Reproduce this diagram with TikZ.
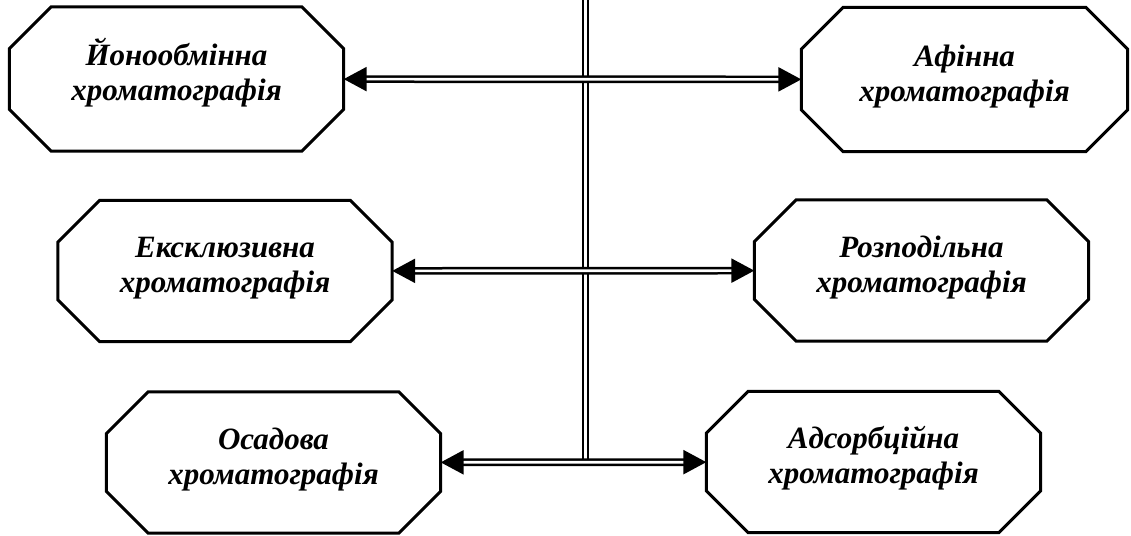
\documentclass[tikz,border=0pt]{standalone}
\usepackage{fontspec}
\setmainfont{Liberation Serif}
\usetikzlibrary{arrows.meta}

\begin{document}
\begin{tikzpicture}[x=1pt, y=-1pt]
	\tikzset{nd/.style={rectangle, minimum width=334pt, minimum height=141pt, inner sep=0pt, align=center, text height=55pt, text depth=12pt, font=\bfseries\itshape\fontsize{31}{35}\selectfont}};
	\tikzset{frame/.style={line width=3pt, line join=miter}};
	\tikzset{bus/.style={double, line width=2.5pt, double distance=2.7pt}};
	\tikzset{link/.style={bus, {Triangle[length=23pt,width=24pt]}-{Triangle[length=23pt,width=24pt]}}};

	\useasboundingbox (0,0) rectangle (1131,535);

	\node[nd, minimum height=144pt] (ion) at (176.5, 79) {Йонообмінна\\хроматографія};
	\node[nd, minimum width=326pt, minimum height=144pt] (afin) at (964.5, 79.5) {Афінна\\хроматографія};
	\node[nd] (excl) at (225, 271) {Ексклюзивна\\хроматографія};
	\node[nd] (rozp) at (921.5, 270.5) {Розподільна\\хроматографія};
	\node[nd] (osad) at (273.5, 462.5) {Осадова\\хроматографія};
	\node[nd] (adsorb) at (873.5, 462) {Адсорбційна\\хроматографія};

	\coordinate (top) at (585.5, 0);

	% trunk
	\draw[bus] (top) -- (top |- osad.east);

	\draw[link] (ion) to (afin);
	\draw[link] (excl) to (rozp);
	\draw[link] (osad) to (adsorb);

	% octagon frames
	\foreach \n in {ion, afin, excl, rozp, osad, adsorb}
		\draw[frame] ([xshift=42pt]\n.north west) -- ([xshift=-42pt]\n.north east)
			-- ([yshift=-42pt]\n.north east) -- ([yshift=42pt]\n.south east)
			-- ([xshift=-42pt]\n.south east) -- ([xshift=42pt]\n.south west)
			-- ([yshift=42pt]\n.south west) -- ([yshift=-42pt]\n.north west) -- cycle;
\end{tikzpicture}
\end{document}
